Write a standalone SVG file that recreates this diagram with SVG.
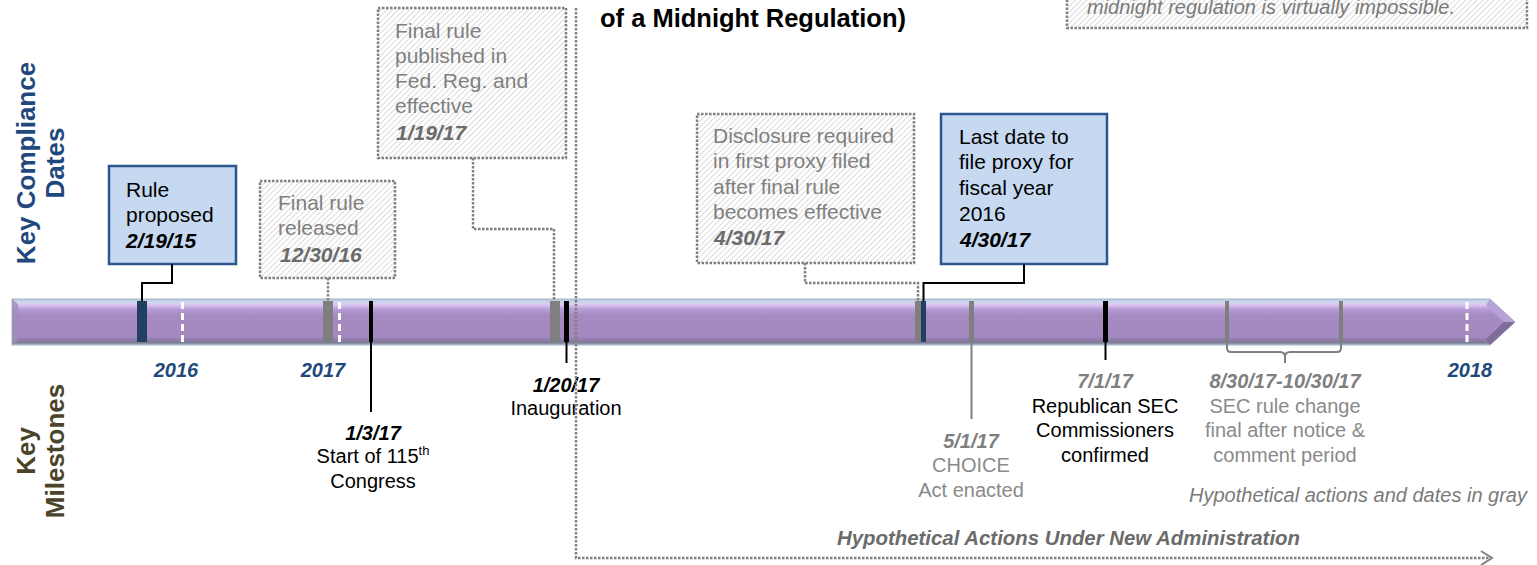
<svg xmlns="http://www.w3.org/2000/svg" width="1537" height="565" viewBox="0 0 1537 565">
  <defs>
    <linearGradient id="barFill" x1="0" y1="0" x2="0" y2="1">
      <stop offset="0" stop-color="#b4c4d8"/>
      <stop offset="0.06" stop-color="#c9d8ec"/>
      <stop offset="0.12" stop-color="#dcc9f3"/>
      <stop offset="0.22" stop-color="#b89cd8"/>
      <stop offset="0.35" stop-color="#a68bc1"/>
      <stop offset="0.82" stop-color="#a389bf"/>
      <stop offset="0.9" stop-color="#8e78a8"/>
      <stop offset="0.95" stop-color="#7c7f95"/>
      <stop offset="1" stop-color="#aab6c6"/>
    </linearGradient>
    <pattern id="hatch" width="4" height="4" patternUnits="userSpaceOnUse" patternTransform="rotate(45)">
      <rect width="4" height="4" fill="#ffffff"/>
      <line x1="0" y1="0" x2="0" y2="4" stroke="#c4c4c4" stroke-width="1.2"/>
    </pattern>
  </defs>
  <style>
    text { font-family: "Liberation Sans", Arial, sans-serif; }
    .box-solid { fill: #c6d9f1; stroke: #2c578c; stroke-width: 2.5; }
    .box-hyp { fill: url(#hatch); stroke: #808080; stroke-width: 2.5; stroke-dasharray: 2.5 1.5; }
    .lead { fill: none; stroke: #000000; stroke-width: 2; }
    .lead-gray { fill: none; stroke: #808080; stroke-width: 2; }
    .lead-hyp { fill: none; stroke: #808080; stroke-width: 2.5; stroke-dasharray: 2.5 1.5; }
    .bt { font-size: 21px; fill: #000000; }
    .ht { font-size: 21px; fill: #808080; }
    .mt { font-size: 20px; fill: #000000; text-anchor: middle; }
    .mg { font-size: 20px; fill: #8a8a8a; text-anchor: middle; }
    .bi { font-weight: bold; font-style: italic; }
    .hd { fill: #6b6b6b; }
    .year { font-size: 20px; font-weight: bold; font-style: italic; fill: #1f497d; text-anchor: middle; }
    .side { font-size: 26px; font-weight: bold; text-anchor: middle; }
    .tick-navy { fill: #233f60; }
    .tick-gray { fill: #7f7f7f; }
    .tick-black { fill: #000000; }
    .tick-year { stroke: #ffffff; stroke-width: 3; stroke-dasharray: 7 4; }
  </style>

  <!-- section headings -->
  <g id="heading-dates">
    <text class="side" fill="#1f497d" transform="translate(35,163) rotate(-90)"><tspan x="0" y="0">Key Compliance</tspan><tspan x="0" y="29">Dates</tspan></text>
  </g>
  <g id="heading-milestones">
    <text class="side" fill="#4a452a" transform="translate(35,451) rotate(-90)"><tspan x="0" y="0">Key</tspan><tspan x="0" y="29">Milestones</tspan></text>
  </g>

  <!-- title line -->
  <g id="title">
    <text x="600" y="27" font-size="25.5" font-weight="bold" fill="#000000">of a Midnight Regulation)</text>
  </g>

  <!-- note box, top right -->
  <g id="note">
    <rect class="box-hyp" x="1067" y="-10" width="460" height="38"/>
    <text x="1087" y="14" font-size="20" font-style="italic" fill="#7a7a7a">midnight regulation is virtually impossible.</text>
  </g>

  <!-- timeline bar -->
  <g id="timeline">
    <path d="M12,299 H1490 L1515,322 L1490,345 H12 Z" fill="url(#barFill)" stroke="#a9b6c8" stroke-width="1"/>
    <polygon points="12,299 18,304 18,340 12,345" fill="#9d8fb8" opacity="0.8"/>
    <polygon points="1490,299 1515,322 1504,322 1486,305" fill="#b8a3d6"/>
    <polygon points="1490,345 1515,322 1504,322 1486,339" fill="#7f6c98"/>
    <line class="tick-year" x1="182.5" y1="302" x2="182.5" y2="342"/>
    <line class="tick-year" x1="339.5" y1="302" x2="339.5" y2="342"/>
    <line class="tick-year" x1="1467" y1="302" x2="1467" y2="342"/>
    <rect class="tick-navy" x="137" y="301" width="10" height="41"/>
    <rect class="tick-gray" x="323" y="301" width="10" height="41"/>
    <rect class="tick-black" x="369" y="301" width="4" height="41"/>
    <rect class="tick-gray" x="550" y="301" width="10" height="41"/>
    <rect class="tick-black" x="564" y="301" width="5" height="41"/>
    <rect class="tick-gray" x="915" y="301" width="6" height="41"/>
    <rect class="tick-navy" x="921" y="301" width="5" height="41"/>
    <rect class="tick-gray" x="969" y="301" width="5" height="41"/>
    <rect class="tick-black" x="1103" y="301" width="5" height="41"/>
    <rect class="tick-gray" x="1225" y="301" width="4" height="41"/>
    <rect class="tick-gray" x="1339" y="301" width="4" height="41"/>
  </g>

  <!-- year labels -->
  <g id="years">
    <text class="year" x="176" y="377">2016</text>
    <text class="year" x="323" y="377">2017</text>
    <text class="year" x="1470" y="377">2018</text>
  </g>

  <!-- compliance date boxes -->
  <g id="rule-proposed">
    <rect class="box-solid" x="109" y="166" width="127" height="98"/>
    <text class="bt"><tspan x="126" y="197">Rule</tspan><tspan x="126" y="222">proposed</tspan><tspan class="bi" x="126" y="248">2/19/15</tspan></text>
  </g>
  <g id="final-rule-released">
    <rect class="box-hyp" x="260" y="181" width="135" height="97"/>
    <text class="ht"><tspan x="278" y="210">Final rule</tspan><tspan x="278" y="235">released</tspan><tspan class="bi hd" x="280" y="262">12/30/16</tspan></text>
  </g>
  <g id="final-rule-published">
    <rect class="box-hyp" x="378" y="8" width="188" height="150"/>
    <text class="ht"><tspan x="395" y="38">Final rule</tspan><tspan x="395" y="63">published in</tspan><tspan x="395" y="88">Fed. Reg. and</tspan><tspan x="395" y="113">effective</tspan><tspan class="bi hd" x="396" y="140">1/19/17</tspan></text>
  </g>
  <g id="disclosure-required">
    <rect class="box-hyp" x="697" y="114" width="217" height="149"/>
    <text class="ht"><tspan x="713" y="143">Disclosure required</tspan><tspan x="713" y="168">in first proxy filed</tspan><tspan x="713" y="194">after final rule</tspan><tspan x="713" y="219">becomes effective</tspan><tspan class="bi hd" x="714" y="245">4/30/17</tspan></text>
  </g>
  <g id="last-date-proxy">
    <rect class="box-solid" x="941" y="114" width="166" height="150"/>
    <text class="bt"><tspan x="959" y="144">Last date to</tspan><tspan x="959" y="169">file proxy for</tspan><tspan x="959" y="195">fiscal year</tspan><tspan x="959" y="221">2016</tspan><tspan class="bi" x="960" y="247">4/30/17</tspan></text>
  </g>

  <!-- milestones -->
  <g id="congress-start">
    <text class="mt"><tspan class="bi" x="373" y="440">1/3/17</tspan><tspan x="373" y="463">Start of 115<tspan font-size="13" dy="-8">th</tspan></tspan><tspan x="373" y="488">Congress</tspan></text>
  </g>
  <g id="inauguration">
    <text class="mt"><tspan class="bi" x="566" y="392">1/20/17</tspan><tspan x="566" y="415">Inauguration</tspan></text>
  </g>
  <g id="choice-act">
    <text class="mg"><tspan class="bi" fill="#7f7f7f" x="971" y="448">5/1/17</tspan><tspan x="971" y="472">CHOICE</tspan><tspan x="971" y="497">Act enacted</tspan></text>
  </g>
  <g id="sec-commissioners">
    <text class="mt"><tspan class="bi" fill="#7f7f7f" x="1105" y="388">7/1/17</tspan><tspan x="1105" y="413">Republican SEC</tspan><tspan x="1105" y="437">Commissioners</tspan><tspan x="1105" y="462">confirmed</tspan></text>
  </g>
  <g id="sec-rule-change">
    <text class="mg"><tspan class="bi" fill="#7f7f7f" x="1285" y="388">8/30/17-10/30/17</tspan><tspan x="1285" y="413">SEC rule change</tspan><tspan x="1285" y="437">final after notice &amp;</tspan><tspan x="1285" y="462">comment period</tspan></text>
  </g>

  <!-- legend notes -->
  <g id="legend">
    <text x="1527" y="502" font-size="20" font-style="italic" fill="#7a7a7a" text-anchor="end">Hypothetical actions and dates in gray</text>
  </g>
  <g id="new-administration">
    <text x="837" y="545" font-size="20.4" font-weight="bold" font-style="italic" fill="#6b6b6b">Hypothetical Actions Under New Administration</text>
  </g>

  <!-- connectors -->
  <g id="connectors">
    <polyline class="lead" points="172,264 172,283 142,283 142,301"/>
    <polyline class="lead-hyp" points="328,278 328,301"/>
    <polyline class="lead-hyp" points="473,158 473,229 554,229 554,301"/>
    <polyline class="lead-hyp" points="805,263 805,283 918,283 918,301"/>
    <polyline class="lead" points="1024,264 1024,283 923.5,283 923.5,301"/>
    <line class="lead" x1="371" y1="342" x2="371" y2="412"/>
    <line class="lead" x1="566.5" y1="342" x2="566.5" y2="363"/>
    <line class="lead-gray" x1="971.5" y1="342" x2="971.5" y2="419"/>
    <line class="lead" x1="1105.5" y1="342" x2="1105.5" y2="360"/>
    <path class="lead-gray" d="M1227,343 V348 Q1227,352 1231,352 H1280 Q1285,352 1285,357 V363 M1285,357 Q1285,352 1290,352 H1337 Q1341,352 1341,348 V343" stroke-width="1.5"/>
    <polyline class="lead-hyp" points="576,8 576,558 1490,558"/>
    <polyline points="1481,551 1492,558 1481,565" fill="none" stroke="#808080" stroke-width="2"/>
  </g>
</svg>
